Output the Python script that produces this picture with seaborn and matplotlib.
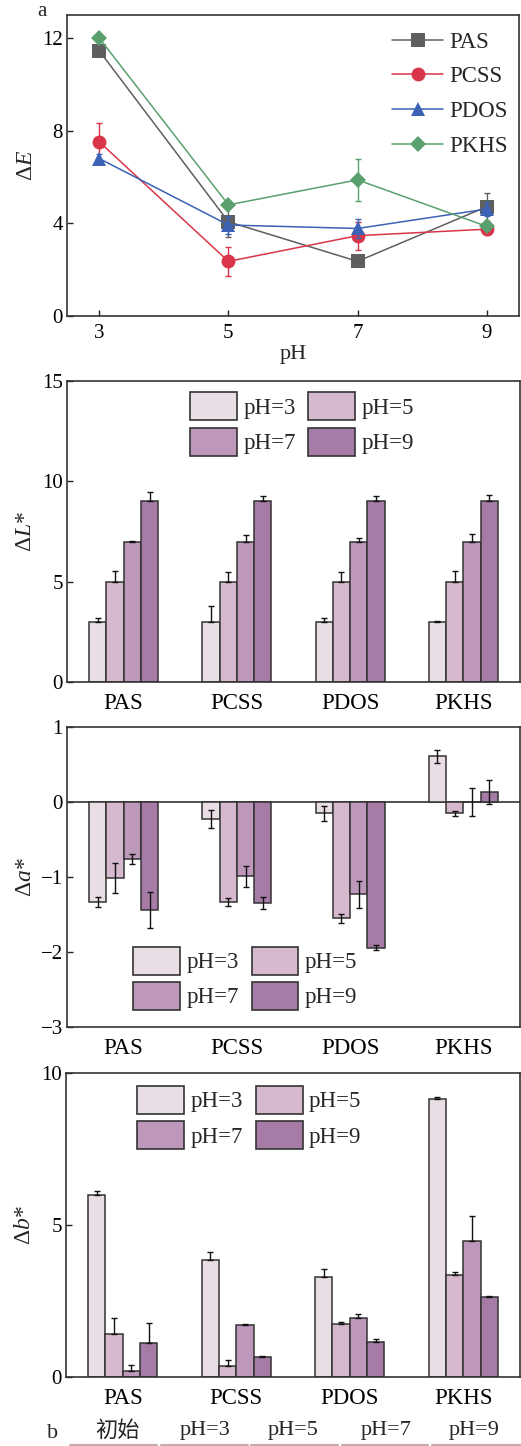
import numpy as np
import pandas as pd
import matplotlib
matplotlib.use("Agg")
import matplotlib.pyplot as plt
from matplotlib.patches import Patch
from matplotlib.lines import Line2D
import matplotlib.colors as mcolors
import seaborn as sns

# ---------------- data ----------------
samples = ["PAS", "PCSS", "PDOS", "PKHS"]
ph_values = [3, 5, 7, 9]
ph_levels = ["pH=3", "pH=5", "pH=7", "pH=9"]

# total colour difference vs pH
dE_PAS = [11.45, 4.07, 2.36, 4.72]
dE_PCSS = [7.52, 2.36, 3.47, 3.75]
dE_PDOS = [6.80, 3.93, 3.78, 4.62]
dE_PKHS = [12.0, 4.80, 5.88, 3.87]
dE_err_PAS = [0.15, 0.65, 0.15, 0.60]
dE_err_PCSS = [0.80, 0.63, 0.60, 0.25]
dE_err_PDOS = [0.20, 0.40, 0.40, 0.30]
dE_err_PKHS = [0.10, 0.15, 0.90, 0.15]

# lightness difference (rows: pH level, columns: sample)
dL = [[3.0, 3.0, 3.0, 3.0],
      [5.0, 5.0, 5.0, 5.0],
      [7.0, 7.0, 7.0, 7.0],
      [9.0, 9.0, 9.0, 9.0]]
dL_err = [[0.20, 0.80, 0.20, 0.02],
          [0.55, 0.50, 0.50, 0.55],
          [0.02, 0.35, 0.20, 0.40],
          [0.45, 0.25, 0.25, 0.30]]

# red-green difference
da = [[-1.33, -0.22, -0.15, 0.61],
      [-1.01, -1.33, -1.55, -0.15],
      [-0.76, -0.99, -1.23, 0.00],
      [-1.44, -1.35, -1.94, 0.14]]
da_err = [[0.07, 0.12, 0.10, 0.09],
          [0.20, 0.05, 0.06, 0.03],
          [0.07, 0.14, 0.18, 0.19],
          [0.24, 0.08, 0.03, 0.16]]

# yellow-blue difference
db = [[6.00, 3.84, 3.30, 9.14],
      [1.42, 0.36, 1.74, 3.35],
      [0.20, 1.70, 1.95, 4.49],
      [1.13, 0.66, 1.16, 2.64]]
db_err = [[0.11, 0.27, 0.26, 0.08],
          [0.52, 0.20, 0.08, 0.11],
          [0.20, 0.03, 0.12, 0.82],
          [0.63, 0.03, 0.09, 0.01]]

photo_labels = ["初始", "pH=3", "pH=5", "pH=7", "pH=9"]

# ---------------- style ----------------
sns.set_theme(style="ticks")
plt.rcParams["font.family"] = ["Liberation Serif", "Noto Sans CJK SC", "DejaVu Sans"]
plt.rcParams["mathtext.fontset"] = "custom"
plt.rcParams["mathtext.rm"] = "Liberation Serif"
plt.rcParams["mathtext.it"] = "Liberation Serif:italic"
plt.rcParams["axes.edgecolor"] = "#333333"
plt.rcParams["axes.linewidth"] = 1.2

line_colors = ["#5f5f5f", "#d9364a", "#3b62b5", "#5aa06e"]
line_markers = ["s", "o", "^", "D"]
marker_sizes = [9.5, 10, 10.5, 8.5]
bar_colors = ["#e9dde6", "#d6b8cf", "#be98bb", "#a67ba6"]
edge = "#333333"

W, H = 521, 1446
fig = plt.figure(figsize=(W / 100, H / 100), dpi=100)


def axes_px(left, top, right, bottom):
    return fig.add_axes([left / W, 1 - bottom / H, (right - left) / W, (bottom - top) / H])


def style_axes(ax):
    for s in ax.spines.values():
        s.set_visible(True)
        s.set_color(edge)
        s.set_linewidth(1.2)
    ax.tick_params(direction="in", length=4, width=1, colors="#222222",
                   labelsize=15, labelcolor="black")


# ---------------- panel a : line chart ----------------
ax1 = axes_px(67, 15, 519, 316)
style_axes(ax1)
series = [("PAS", dE_PAS, dE_err_PAS), ("PCSS", dE_PCSS, dE_err_PCSS),
          ("PDOS", dE_PDOS, dE_err_PDOS), ("PKHS", dE_PKHS, dE_err_PKHS)]
for i, (name, vals, errs) in enumerate(series):
    ax1.errorbar(ph_values, vals, yerr=errs, fmt="none", ecolor=line_colors[i],
                 elinewidth=1.0, capsize=2.5, capthick=1.0, zorder=2 + i)
    sns.lineplot(x=ph_values, y=vals, ax=ax1, color=line_colors[i],
                 marker=line_markers[i], markersize=marker_sizes[i],
                 markeredgewidth=0, linewidth=1.1, legend=False, zorder=3 + i)
ax1.set_xlim(2.5, 9.5)
ax1.set_ylim(0, 13)
ax1.set_xticks(ph_values)
ax1.set_yticks([0, 4, 8, 12])
ax1.tick_params(axis="x", pad=6)
ax1.tick_params(axis="y", pad=3)
ax1.set_xlabel("pH", fontsize=16, labelpad=1)
ax1.set_ylabel(r"$\Delta\mathit{E}$", fontsize=17)
ax1.yaxis.set_label_coords(-0.066, 0.5)
handles = [Line2D([], [], color=line_colors[i], marker=line_markers[i],
                  markersize=marker_sizes[i], markeredgewidth=0, linewidth=1.1)
           for i in range(4)]
ax1.legend(handles, samples, loc="upper left", bbox_to_anchor=(0.72, 0.945),
           frameon=False, fontsize=16.5, handlelength=2.2, handletextpad=0.3,
           labelspacing=0.6, borderpad=0, borderaxespad=0)
fig.text(42 / W, 1 - 12 / H, "a", fontsize=15, ha="center", va="center")


# ---------------- bar panels ----------------
def bar_panel(ax, values, errors, ylim, yticks, ylabel, legend_xy, up_only):
    style_axes(ax)
    df = pd.DataFrame({
        "sample": [s for lvl in ph_levels for s in samples],
        "pH": [lvl for lvl in ph_levels for s in samples],
        "value": [v for row in values for v in row],
    })
    sns.barplot(data=df, x="sample", y="value", hue="pH", order=samples,
                hue_order=ph_levels, palette=bar_colors, saturation=1,
                width=0.61, errorbar=None, edgecolor=edge, linewidth=1.1,
                legend=False, ax=ax, zorder=2)
    # error bars placed at the centre of each drawn bar
    rgb = [mcolors.to_rgb(c) for c in bar_colors]
    for bar in ax.patches:
        fc = mcolors.to_rgb(bar.get_facecolor())
        li = int(np.argmin([sum((a - b) ** 2 for a, b in zip(fc, c)) for c in rgb]))
        xc = bar.get_x() + bar.get_width() / 2
        ci = int(round(xc))
        v = values[li][ci]
        e = errors[li][ci]
        if up_only:
            yerr = [[0], [e]] if v >= 0 else [[e], [0]]
        else:
            yerr = [[e], [e]]
        ax.errorbar([xc], [v], yerr=yerr, fmt="none", ecolor="#111111",
                    elinewidth=1.0, capsize=2.5, capthick=1.0, zorder=4)
    ax.set_xlim(-0.5, 3.5)
    ax.set_ylim(*ylim)
    ax.set_yticks(yticks)
    ax.set_xlabel("")
    ax.set_ylabel(ylabel, fontsize=17)
    ax.yaxis.set_label_coords(-0.068, 0.5)
    ax.tick_params(axis="x", length=0, labelsize=16.5, pad=8)
    ax.tick_params(axis="y", pad=3)
    # legend laid out row by row: pH=3, pH=5 / pH=7, pH=9
    order = [0, 2, 1, 3]
    leg_handles = [Patch(facecolor=bar_colors[k], edgecolor=edge, linewidth=1.2)
                   for k in order]
    ax.legend(leg_handles, [ph_levels[k] for k in order], ncol=2, loc="upper left",
              bbox_to_anchor=legend_xy, frameon=False, fontsize=16.5,
              handlelength=2.05, handleheight=1.5, handletextpad=0.28,
              labelspacing=0.32, columnspacing=0.55, borderpad=0,
              borderaxespad=0)


ax2 = axes_px(67, 381, 520, 682)
bar_panel(ax2, dL, dL_err, (0, 15), [0, 5, 10, 15],
          r"$\Delta\mathit{L}$*", (0.2715, 0.962), True)

ax3 = axes_px(67, 727, 520, 1027)
ax3.axhline(0, color=edge, linewidth=1.2, zorder=1)
bar_panel(ax3, da, da_err, (-3, 1), [-3, -2, -1, 0, 1],
          r"$\Delta\mathit{a}$*", (0.146, 0.268), False)

ax4 = axes_px(66, 1073, 520, 1377)
bar_panel(ax4, db, db_err, (0, 10), [0, 5, 10],
          r"$\Delta\mathit{b}$*", (0.157, 0.958), True)

# ---------------- photo captions row ----------------
fig.text(53 / W, 1 - 1434 / H, "b", fontsize=16, ha="center", va="center")
caption_x = [117, 205, 293, 386, 474]
for x, lab in zip(caption_x, photo_labels):
    fig.text(x / W, 1 - 1431 / H, lab, fontsize=16, ha="center", va="center",
             family=["Liberation Serif", "Noto Sans CJK SC"])
segments = [(70, 157), (161, 248), (251, 338), (342, 428), (432, 521)]
for x0, x1 in segments:
    fig.add_artist(Line2D([x0 / W, x1 / W], [1 - 1445 / H, 1 - 1445 / H],
                          transform=fig.transFigure, color="#c9a9aa", linewidth=1.5))

fig.savefig("out.png", dpi=100)
